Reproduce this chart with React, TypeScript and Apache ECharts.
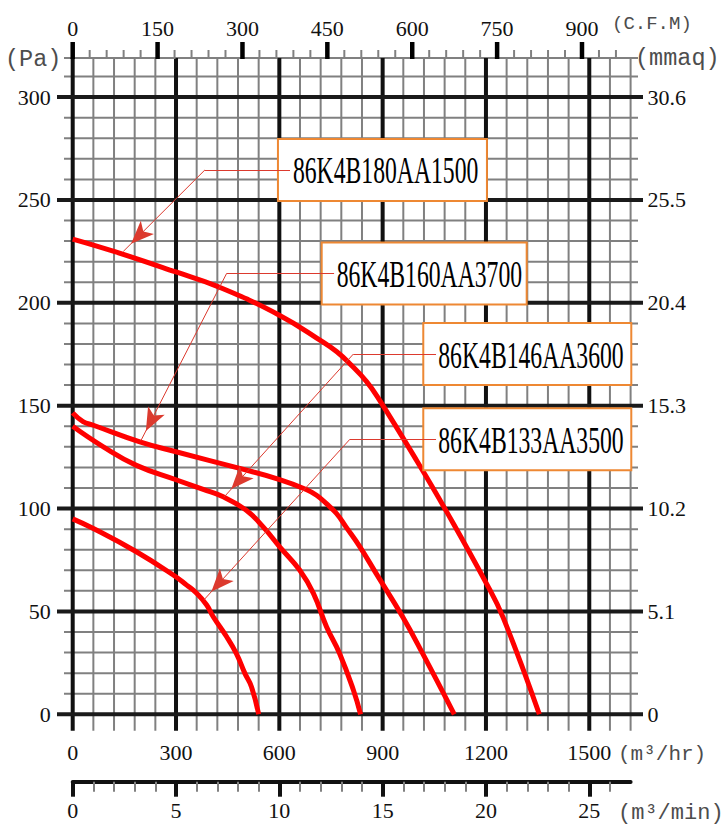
import React, { useEffect, useRef } from "react";
import * as echarts from "echarts";

// m³/hr grid positions
const flowMajor = [0, 300, 600, 900, 1200, 1500];
const flowMinor = [60, 120, 180, 240, 360, 420, 480, 540, 660, 720, 780, 840, 960, 1020, 1080, 1140, 1260, 1320, 1380, 1440, 1560, 1620];
// Pa grid positions
const paMajor = [0, 50, 100, 150, 200, 250, 300];
const paMinor = [10, 20, 30, 40, 60, 70, 80, 90, 110, 120, 130, 140, 160, 170, 180, 190, 210, 220, 230, 240, 260, 270, 280, 290, 310, 319];
const mmaqLabels = ["0", "5.1", "10.2", "15.3", "20.4", "25.5", "30.6"];
// C.F.M ticks
const cfmMajor = [0, 150, 300, 450, 600, 750, 900];
const cfmMinor = [30, 60, 90, 120, 180, 210, 240, 270, 330, 360, 390, 420, 480, 510, 540, 570, 630, 660, 690, 720, 780, 810, 840, 870, 930, 960];
// m³/min ticks
const minMajor = [0, 5, 10, 15, 20, 25];
const minMinor = [1, 2, 3, 4, 6, 7, 8, 9, 11, 12, 13, 14, 16, 17, 18, 19, 21, 22, 23, 24, 26];

const modelNames = ["86K4B180AA1500", "86K4B160AA3700", "86K4B146AA3600", "86K4B133AA3500"];

const curve180 = [[0, 231], [120, 225], [300, 215], [420, 208], [600, 194], [726, 181], [767, 176.2], [804, 170.5], [854, 161.6], [891, 152.7], [1000, 123], [1084, 99], [1200, 64], [1250, 47], [1355, 0]];
const curve160 = [[0, 146.5], [30, 142.3], [60, 140.5], [195, 132.4], [300, 127.6], [485, 119.5], [601, 114.1], [678, 109.3], [708, 106.5], [736, 102.5], [766, 97.6], [794, 91], [834, 81.4], [881, 68.5], [958, 47.4], [1016, 29.6], [1108, 0]];
const curve146 = [[0, 140], [89, 130], [185, 121], [300, 114], [379, 109.3], [437, 105.7], [504, 99.2], [553, 91.1], [601, 81.4], [659, 70.1], [699, 58.8], [737, 42.6], [775, 29.6], [815, 11.8], [836, 0]];
const curve133 = [[0, 95], [60, 90.3], [185, 79], [292, 67.7], [331, 62.8], [360, 58.8], [389, 53.1], [408, 47.4], [447, 37.7], [475, 29.6], [500, 19.9], [519, 13.4], [540, 0]];
const curves = [curve180, curve160, curve146, curve133];

// callout leader points (m³/hr, Pa)
const calloutTip = [[147, 225], [198, 133], [439, 105.5], [381, 55.6]];
const calloutElbow = [[384, 264.6], [447, 214.3], [815, 175.1], [805, 133.7]];
const calloutEnd = [[631, 264.6], [759, 214.3], [1055, 175.1], [1055, 133.7]];
const calloutBox = [[596, 264.6], [723, 214.3], [1018, 175.1], [1018, 133.7]];
const boxWidths = [209, 205, 208, 208];

const serif = '"Liberation Serif", "Times New Roman", serif';
const mono = '"Liberation Mono", "Courier New", monospace';
const labelStyle = { fontFamily: serif, fontSize: 22, color: "#111", formatter: (v: number) => String(v) };

const vLine = (color: string, width: number) => (params: any, api: any) => {
  const x = api.coord([api.value(0), 0])[0];
  const y0 = api.coord([0, 0])[1];
  const cs = params.coordSys;
  return { type: "line", shape: { x1: x, y1: cs.y, x2: x, y2: y0 + 16.5 }, style: { stroke: color, lineWidth: width } };
};
const hLine = (color: string, width: number, extL: number, extR: number) => (params: any, api: any) => {
  const y = api.coord([0, api.value(1)])[1];
  const cs = params.coordSys;
  return { type: "line", shape: { x1: cs.x - extL, y1: y, x2: cs.x + cs.width + extR, y2: y }, style: { stroke: color, lineWidth: width } };
};
// C.F.M ticks above the grid, drawn as rects
const topTick = (color: string, width: number, len: number) => (params: any, api: any) => {
  const x = api.coord([api.value(0), 0])[0];
  const top = params.coordSys.y;
  return { type: "rect", shape: { x: x - width / 2, y: top - len, width, height: len + 1 }, style: { fill: color } };
};

export default function App() {
  const ref = useRef<HTMLDivElement>(null);
  useEffect(() => {
    if (!ref.current) return;
    const chart = echarts.init(ref.current, null, { renderer: "svg" });
    const leaderColor = "#dc3a2e";
    const option: any = {
      animation: false,
      backgroundColor: "#fff",
      grid: { left: 72.7, right: 96.4, top: 58, bottom: 110.7, containLabel: false, outerBoundsMode: "none" },
      xAxis: [
        { type: "value", min: 0, max: 1620, position: "bottom", axisLine: { show: false, onZero: false }, axisTick: { show: false }, splitLine: { show: false },
          axisLabel: { ...labelStyle, customValues: flowMajor, margin: 27 } },
        { type: "value", min: 0, max: 985.9, position: "top", axisLine: { show: false, onZero: false }, splitLine: { show: false },
          axisTick: { show: false },
          axisLabel: { ...labelStyle, customValues: cfmMajor, margin: 19 } },
        { type: "value", min: 0, max: 27, position: "bottom", offset: 67.4, splitLine: { show: false },
          axisLine: { show: true, onZero: false, lineStyle: { color: "#111", width: 4 } },
          axisTick: { show: true, customValues: minMajor, length: 15, lineStyle: { color: "#111", width: 4 } },
          axisLabel: { ...labelStyle, customValues: minMajor, margin: 18 } },
        { type: "value", min: 0, max: 27, position: "bottom", offset: 67.4, splitLine: { show: false },
          axisLine: { show: false, onZero: false },
          axisTick: { show: true, customValues: minMinor, length: 10, lineStyle: { color: "#808080", width: 2 } },
          axisLabel: { show: false } },
      ],
      yAxis: [
        { type: "value", min: 0, max: 319, position: "left", axisLine: { show: false, onZero: false }, axisTick: { show: false }, splitLine: { show: false },
          axisLabel: { ...labelStyle, customValues: paMajor, margin: 22 } },
        { type: "value", min: 0, max: 319, position: "right", axisLine: { show: false, onZero: false }, axisTick: { show: false }, splitLine: { show: false },
          axisLabel: { ...labelStyle, customValues: paMajor, margin: 17, formatter: (v: number) => mmaqLabels[paMajor.indexOf(v)] ?? "" } },
      ],
      series: [
        { type: "custom", silent: true, z: 1, clip: false, renderItem: vLine("#808080", 2), data: flowMinor.map((v) => [v, 0]) },
        { type: "custom", silent: true, z: 1, clip: false, renderItem: hLine("#808080", 2, 8.7, 7.4), data: paMinor.map((v) => [0, v]) },
        { type: "custom", silent: true, z: 2, clip: false, renderItem: vLine("#111", 4), data: flowMajor.map((v) => [v, 0]) },
        { type: "custom", silent: true, z: 2, clip: false, renderItem: hLine("#1a1a1a", 4, 15.7, 12.4), data: paMajor.map((v) => [0, v]) },
        { type: "custom", silent: true, z: 8, clip: false, xAxisIndex: 1, yAxisIndex: 0, renderItem: topTick("#808080", 2, 8), data: cfmMinor.map((v) => [v, 0]) },
        { type: "custom", silent: true, z: 9, clip: false, xAxisIndex: 1, yAxisIndex: 0, renderItem: topTick("#000000", 4.5, 16), data: cfmMajor.map((v) => [v, 0]) },
        ...curves.map((c, i) => ({
          type: "line",
          name: modelNames[i],
          data: c,
          smooth: 0.45,
          symbol: "none",
          z: 3,
          lineStyle: { color: "#ff0000", width: 5 },
          markLine: {
            silent: true,
            symbol: ["none", "none"],
            label: { show: false },
            lineStyle: { color: leaderColor, width: 1, type: "solid" },
            data: [
              [{ coord: calloutEnd[i] }, { coord: calloutElbow[i] }],
              [{ coord: calloutElbow[i], symbol: "none" }, { coord: calloutTip[i], symbol: "arrow", symbolSize: [14, 23], symbolOffset: [0, 11] }],
            ],
          },
        })),
      ],
    };
    chart.setOption(option);
    const boxes = calloutBox.map((b, i) => {
      const p = chart.convertToPixel({ xAxisIndex: 0, yAxisIndex: 0 }, b) as number[];
      return {
        type: "group",
        x: p[0],
        y: p[1] - 31,
        z: 4,
        children: [
          { type: "rect", z: 4, shape: { x: 0, y: 0, width: boxWidths[i], height: 62 }, style: { fill: "#fff", stroke: "#ee8833", lineWidth: 2 } },
          { type: "text", z: 4, x: 15, y: 32, scaleX: 0.64,
            style: { text: modelNames[i], font: `37px ${serif}`, fill: "#000", textVerticalAlign: "middle", verticalAlign: "middle", textAlign: "left", align: "left" } },
        ],
      };
    });
    const unit = (text: string, x: number, y: number, size: number) => ({
      type: "text", x, y, z: 4,
      style: { text, font: `${size}px ${mono}`, fill: "#4d4d4d", textVerticalAlign: "middle", verticalAlign: "middle", textAlign: "left", align: "left" },
    });
    chart.setOption({
      graphic: [
        ...boxes,
        unit("(Pa)", 5, 59, 23.5),
        unit("(mmaq)", 635, 58, 23.5),
        unit("(C.F.M)", 612, 24, 19),
        unit("(m³/hr)", 618, 754, 21),
        unit("(m³/min)", 618, 813, 22),
      ],
    });
    return () => chart.dispose();
  }, []);
  return <div ref={ref} style={{ position: "fixed", left: 0, top: 0, width: 727, height: 825 }} />;
}
